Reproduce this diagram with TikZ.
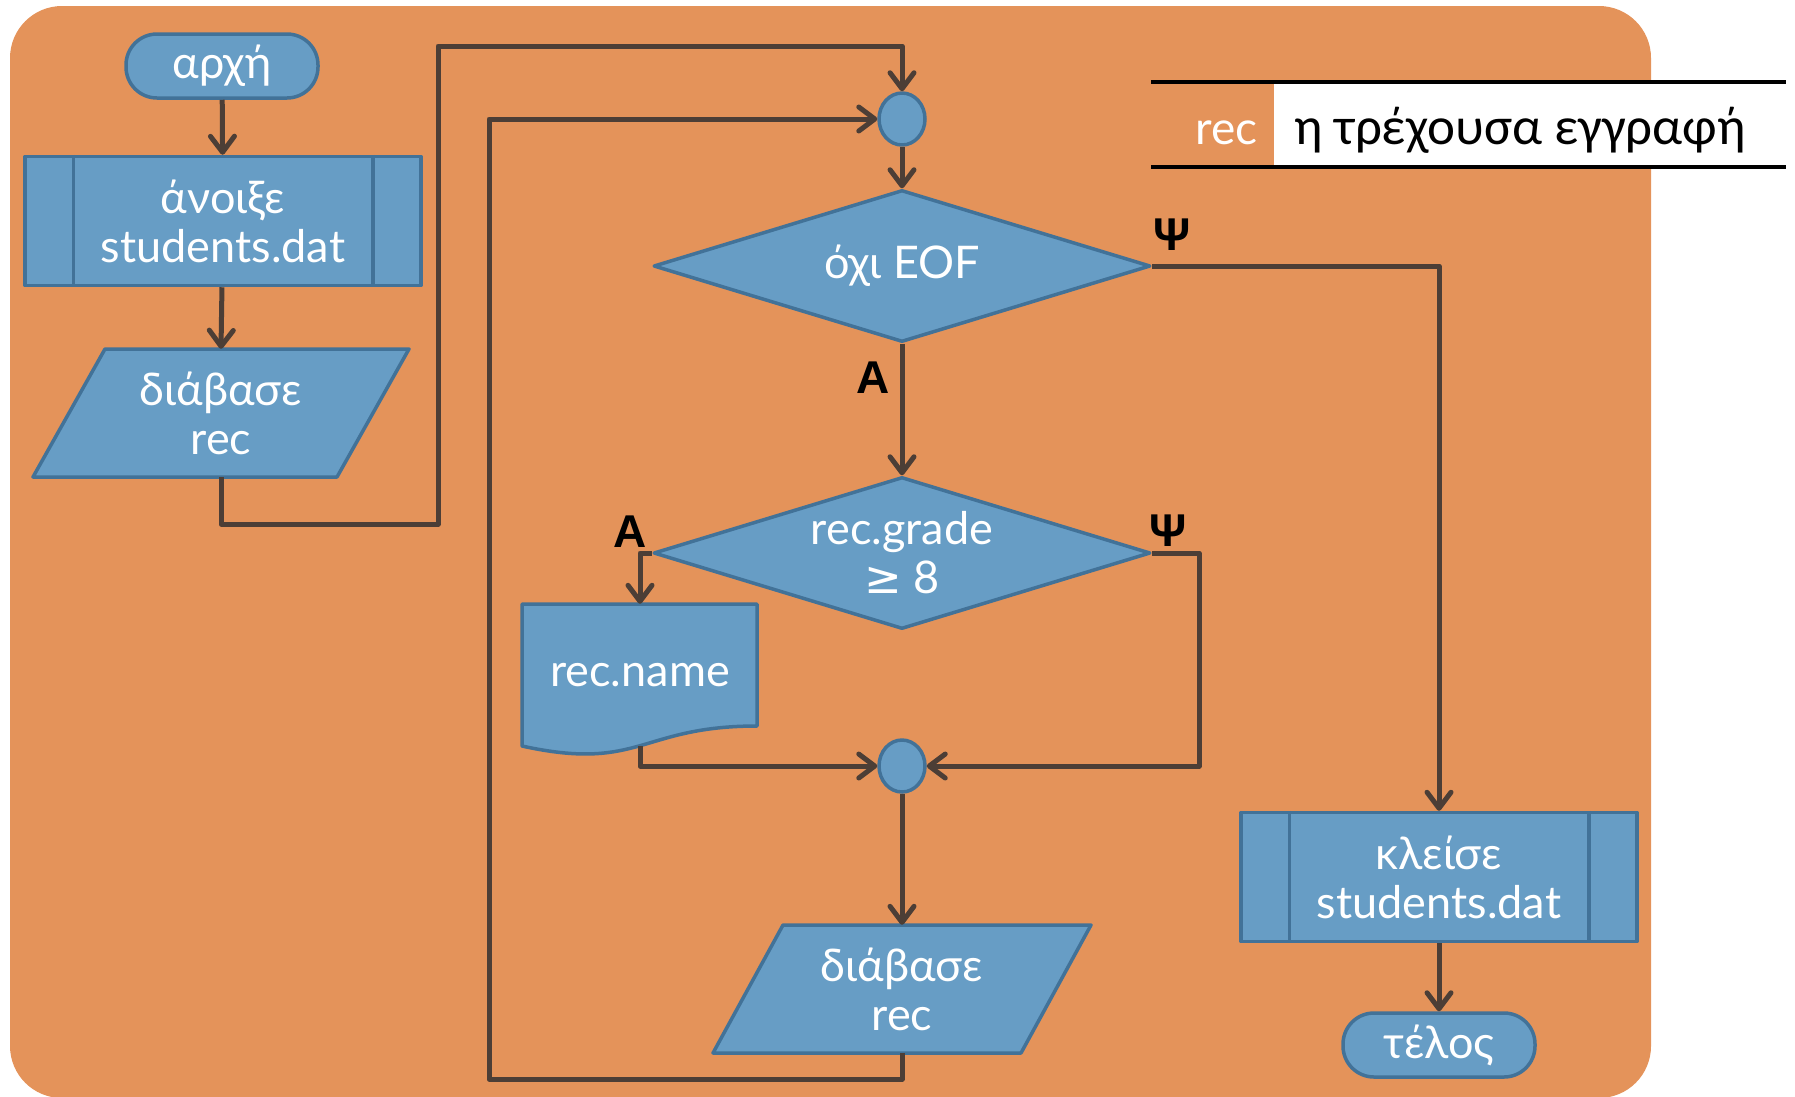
\documentclass[tikz,border=0pt]{standalone}
\usepackage{fontspec}
\setmainfont{Lato}
\newfontfamily\labelfont{Liberation Sans}
\newfontfamily\legendfont{Carlito}
\newfontfamily\symfont{DejaVu Sans}
\usetikzlibrary{shapes.geometric,arrows.meta}

\definecolor{bgorange}{RGB}{228,147,90}
\definecolor{boxfill}{RGB}{103,157,197}
\definecolor{boxline}{RGB}{66,114,152}
\definecolor{flowline}{RGB}{76,62,54}

\tikzset{
  shapebox/.style={fill=boxfill, draw=boxline, line width=3.5pt, line join=round},
  txt/.style={text=white, font=\fontsize{45}{49}\selectfont, align=center, inner sep=0pt},
  terminal/.style={shapebox, txt, rectangle, rounded corners=31pt, minimum width=192pt, minimum height=64pt},
  procbox/.style={shapebox, txt, rectangle, minimum width=396pt, minimum height=129pt},
  decision/.style={shapebox, txt, diamond, aspect=3.28, minimum width=497pt, minimum height=152pt},
  junction/.style={shapebox, ellipse, minimum width=46pt, minimum height=52pt, inner sep=0pt},
  frame/.style={txt, rectangle},
  sidebar/.style={draw=boxline, line width=3.5pt},
  flow/.style={draw=flowline, line width=5pt, line join=round},
  arr/.style={flow, -{Straight Barb[length=16pt, width=24pt, round]}},
  branch/.style={font=\labelfont\bfseries\fontsize{46}{46}\selectfont, text=black, inner sep=0pt},
  rule/.style={draw=black, line width=4pt}
}

\begin{document}
\begin{tikzpicture}[x=1pt, y=-1pt]
\useasboundingbox (0,0) rectangle (1795,1096);

% background panel
\fill[bgorange, rounded corners=52pt] (10,6) rectangle (1651,1098);

% legend
\fill[white] (1274,84) rectangle (1786,165);
\draw[rule] (1151,82) -- (1786,82);
\draw[rule] (1151,167) -- (1786,167);
\node[anchor=east, text=white, inner sep=0pt, font=\fontsize{46}{46}\selectfont] (legkey) at (1258,133) {rec};
\node[anchor=west, text=black, inner sep=0pt, font=\legendfont\fontsize{53}{53}\selectfont] (legval) at (1294,130) {η τρέχουσα εγγραφή};

% left column
\node[terminal] (start) at (222,66) {αρχή};
\node[procbox] (open) at (223,221) {άνοιξε\\students.dat};
\draw[sidebar] ([xshift=50pt]open.north west) -- ([xshift=50pt]open.south west);
\draw[sidebar] ([xshift=-50pt]open.north east) -- ([xshift=-50pt]open.south east);

\filldraw[shapebox] (105,349) -- (409,349) -- (337,477) -- (33,477) -- cycle;
\node[frame, minimum width=300pt, minimum height=128pt] (read1) at (221,413) {διάβασε\\rec};

% main loop
\node[junction] (join1) at (902,119) {};
\node[decision] (dec1) at (902,266) {όχι EOF};
\node[decision] (dec2) at (902,553) {rec.grade\\{\symfont ≥} 8};

\filldraw[shapebox] (522,604) -- (757,604) -- (757,726) .. controls (640,726) and (640,772) .. (522,746) -- cycle;
\node[frame, minimum width=235pt, minimum height=142pt] (doc) at (640,675) {rec.name};

\node[junction] (join2) at (902,766) {};

\filldraw[shapebox] (783,925) -- (1091,925) -- (1021,1053) -- (713,1053) -- cycle;
\node[frame, minimum width=300pt, minimum height=128pt] (read2) at (902,989) {διάβασε\\rec};

% right column
\node[procbox] (close) at (1439,877) {κλείσε\\students.dat};
\draw[sidebar] ([xshift=50pt]close.north west) -- ([xshift=50pt]close.south west);
\draw[sidebar] ([xshift=-50pt]close.north east) -- ([xshift=-50pt]close.south east);
\node[terminal] (end) at (1439,1045) {τέλος};

% branch labels
\node[branch] (yes1) at (873,378) {Α};
\node[branch] (no1) at (1172,235) {Ψ};
\node[branch] (yes2) at (630,532) {Α};
\node[branch] (no2) at (1168,531) {Ψ};

% connectors
\draw[arr] (start) -- (open);
\draw[arr] (open) -- (read1.north);
\draw[arr] (read1.south) |- (438,524) -- (438,46) -| (join1.north);
\draw[arr] (join1.south) -- (dec1.north);
\draw[arr] (dec1.east) -| (close.north);
\draw[arr] (dec1.south) -- (dec2.north);
\draw[arr] (dec2.west) -| (doc.north);
\draw[arr] (dec2.east) -- (1199,553) |- (join2.east);
\draw[arr] (doc.south) |- (join2.west);
\draw[arr] (join2.south) -- (read2.north);
\draw[arr] (read2.south) -- (902,1079) -- (489,1079) |- (join1.west);
\draw[arr] (close) -- (end);
\end{tikzpicture}
\end{document}
